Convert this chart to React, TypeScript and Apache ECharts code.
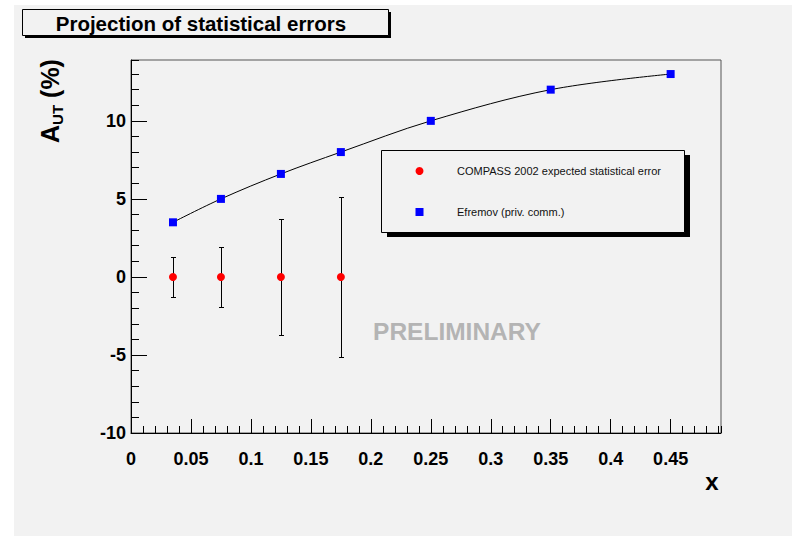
import React, { useEffect, useRef } from "react";
import * as echarts from "echarts";

const xPoints = [0.035, 0.075, 0.125, 0.175];
const compassY = [0, 0, 0, 0];
const compassErr = [1.3, 1.9, 3.7, 5.1];
const efremovX = [0.035, 0.075, 0.125, 0.175, 0.25, 0.35, 0.45];
const efremovY = [3.5, 5.0, 6.6, 8.0, 10.0, 12.0, 13.0];

const FONT = '"Liberation Sans", Arial, Helvetica, sans-serif';
const BG = "#f2f2f2";

export default function App() {
  const ref = useRef<HTMLDivElement>(null);
  useEffect(() => {
    if (!ref.current) return;
    const chart = echarts.init(ref.current, null, { renderer: "svg" });
    const errData = xPoints.map((x, i) => [x, compassY[i], compassY[i] - compassErr[i], compassY[i] + compassErr[i]]);
    const grid = { left: 131, top: 60, right: 71, bottom: 103, show: true, borderColor: "#555", borderWidth: 1, backgroundColor: "transparent" };
    const xMin = 0, xMax = 0.492, yMin = -10, yMax = 13.9;
    const labelStyle = { fontFamily: FONT, fontWeight: "bold" as const, fontSize: 18, color: "#000" };
    chart.setOption({
      animation: false,
      backgroundColor: "#ffffff",
      grid,
      xAxis: [
        {
          type: "value", min: xMin, max: xMax, interval: 0.05, position: "bottom",
          axisLine: { show: true, onZero: false, lineStyle: { color: "#000", width: 1 } },
          axisTick: { show: true, inside: true, length: 14, lineStyle: { color: "#000" } },
          axisLabel: { ...labelStyle, margin: 17, showMaxLabel: false, formatter: (v: number) => String(+v.toFixed(3)) },
          splitLine: { show: false },
        },
        {
          type: "value", min: xMin, max: xMax, interval: 0.01, position: "bottom",
          axisLine: { show: false, onZero: false },
          axisTick: { show: true, inside: true, length: 7, lineStyle: { color: "#000" } },
          axisLabel: { show: false },
          splitLine: { show: false },
        },
      ],
      yAxis: [
        {
          type: "value", min: yMin, max: yMax, interval: 5, position: "left",
          axisLine: { show: true, onZero: false, lineStyle: { color: "#000", width: 1 } },
          axisTick: { show: true, inside: true, length: 16, lineStyle: { color: "#000" } },
          axisLabel: { ...labelStyle, margin: 5, showMaxLabel: false },
          splitLine: { show: false },
        },
        {
          type: "value", min: yMin, max: yMax, interval: 1, position: "left",
          axisLine: { show: false, onZero: false },
          axisTick: { show: true, inside: true, length: 8, lineStyle: { color: "#000" } },
          axisLabel: { show: false },
          splitLine: { show: false },
        },
      ],
      series: [
        {
          type: "line",
          data: efremovX.map((x, i) => [x, efremovY[i]]),
          smooth: 0.35,
          showSymbol: false,
          lineStyle: { color: "#000", width: 1 },
          z: 2,
        },
        {
          type: "scatter",
          name: "Efremov (priv. comm.)",
          data: efremovX.map((x, i) => [x, efremovY[i]]),
          symbol: "rect",
          symbolSize: 8,
          itemStyle: { color: "#0000ff", opacity: 1 },
          z: 4,
        },
        {
          type: "custom",
          data: errData,
          encode: { x: 0, y: [1, 2, 3] },
          renderItem: (params: any, api: any) => {
            const x = api.value(0);
            const lo = api.coord([x, api.value(2)]);
            const hi = api.coord([x, api.value(3)]);
            const px = Math.round(lo[0]) + 0.5;
            const ly = Math.round(lo[1]) + 0.5;
            const hy = Math.round(hi[1]) + 0.5;
            const cw = 2.5;
            const st = { stroke: "#000", lineWidth: 1 };
            return {
              type: "group",
              children: [
                { type: "line", shape: { x1: px, y1: ly, x2: px, y2: hy }, style: st },
                { type: "line", shape: { x1: px - cw, y1: ly, x2: px + cw, y2: ly }, style: st },
                { type: "line", shape: { x1: px - cw, y1: hy, x2: px + cw, y2: hy }, style: st },
              ],
            };
          },
          z: 3,
        },
        {
          type: "scatter",
          name: "COMPASS 2002 expected statistical error",
          data: xPoints.map((x, i) => [x, compassY[i]]),
          symbol: "circle",
          symbolSize: 8,
          itemStyle: { color: "#ff0000", opacity: 1 },
          z: 4,
        },
      ],
      graphic: [
        { type: "rect", z: -10, shape: { x: 14, y: 5, width: 778, height: 531 }, style: { fill: BG } },
        // title box
        { type: "rect", z: 10, shape: { x: 25, y: 12, width: 366, height: 26 }, style: { fill: "#000" } },
        { type: "rect", z: 11, shape: { x: 22.5, y: 9.5, width: 366, height: 26 }, style: { fill: BG, stroke: "#000", lineWidth: 1 } },
        {
          type: "text", z: 12, x: 201, y: 23,
          style: { text: "Projection of statistical errors", font: `bold 20.5px ${FONT}`, fill: "#000", align: "center", verticalAlign: "middle" },
        },
        // legend box
        { type: "rect", z: 10, shape: { x: 387, y: 155, width: 303, height: 82 }, style: { fill: "#000" } },
        { type: "rect", z: 11, shape: { x: 381.5, y: 150.5, width: 303, height: 82 }, style: { fill: BG, stroke: "#000", lineWidth: 1 } },
        { type: "circle", z: 12, shape: { cx: 419.5, cy: 171, r: 4 }, style: { fill: "#ff0000" } },
        {
          type: "text", z: 12, x: 457, y: 171,
          style: { text: "COMPASS 2002 expected statistical error", font: `11px ${FONT}`, fill: "#111", align: "left", verticalAlign: "middle" },
        },
        { type: "rect", z: 12, shape: { x: 415.5, y: 208, width: 8, height: 8 }, style: { fill: "#0000ff" } },
        {
          type: "text", z: 12, x: 457, y: 212,
          style: { text: "Efremov (priv. comm.)", font: `11px ${FONT}`, fill: "#111", align: "left", verticalAlign: "middle" },
        },
        // preliminary
        {
          type: "text", z: 12, x: 457, y: 331,
          style: { text: "PRELIMINARY", font: `bold 24.5px ${FONT}`, fill: "#b4b4b4", align: "center", verticalAlign: "middle" },
        },
        // x title
        {
          type: "text", z: 12, x: 712, y: 481,
          style: { text: "x", font: `bold 24px ${FONT}`, fill: "#000", align: "center", verticalAlign: "middle" },
        },
        // y title
        {
          type: "text", z: 12, x: 50, y: 101, rotation: Math.PI / 2,
          style: {
            text: "{a|A}{s|UT}{a| (%)}",
            align: "center", verticalAlign: "middle",
            rich: {
              a: { fontFamily: FONT, fontWeight: "bold", fontSize: 25, lineHeight: 30, fill: "#000", verticalAlign: "middle" },
              s: { fontFamily: FONT, fontWeight: "bold", fontSize: 15, lineHeight: 30, fill: "#000", verticalAlign: "bottom" },
            },
          },
        },
      ],
    });
    return () => chart.dispose();
  }, []);
  return <div ref={ref} style={{ position: "fixed", left: 0, top: 0, width: 792, height: 536 }} />;
}
